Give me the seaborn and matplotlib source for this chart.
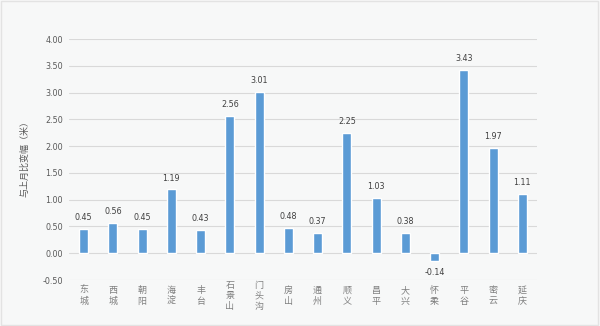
import matplotlib
matplotlib.use("Agg")
import matplotlib.pyplot as plt
import seaborn as sns
import pandas as pd
from matplotlib.patches import Rectangle

districts = ["东城", "西城", "朝阳", "海淀", "丰台", "石景山", "门头沟", "房山",
             "通州", "顺义", "昌平", "大兴", "怀柔", "平谷", "密云", "延庆"]
changes = [0.45, 0.56, 0.45, 1.19, 0.43, 2.56, 3.01, 0.48,
           0.37, 2.25, 1.03, 0.38, -0.14, 3.43, 1.97, 1.11]
yticks = [-0.5, 0.0, 0.5, 1.0, 1.5, 2.0, 2.5, 3.0, 3.5, 4.0]
ylabel = "与上月比变幅（米）"

sns.set_theme(style="white")
plt.rcParams['font.family'] = ['Noto Sans CJK SC', 'DejaVu Sans']
plt.rcParams['axes.unicode_minus'] = False

bg = "#f7f8f8"
fig = plt.figure(figsize=(6.0, 3.26), dpi=100, facecolor=bg)
ax = fig.add_axes([69/600, 1-280/326, (537-69)/600, (280-39)/326])
ax.set_facecolor(bg)

df = pd.DataFrame({"district": districts, "change": changes})
sns.barplot(data=df, x="district", y="change", color="#5b9bd5", width=0.31,
            saturation=1, ax=ax, zorder=3)

ax.set_ylim(-0.5, 4.0)
ax.set_xlim(-0.5, len(districts) - 0.5)
ax.set_yticks(yticks)
ax.set_yticklabels([f"{v:.2f}" for v in yticks], fontsize=5.8, color="#595959",
                   family=['DejaVu Sans'])
for v in yticks:
    ax.axhline(v, color="#d9d9d9", lw=0.8, zorder=1)
for s in ax.spines.values():
    s.set_visible(False)
ax.tick_params(axis='y', length=0, pad=4.5)
ax.tick_params(axis='x', length=0)
ax.set_xticklabels([])
ax.set_xlabel("")
ax.set_ylabel(ylabel, fontsize=6.5, color="#595959")
ax.yaxis.set_label_coords((29 - 69) / 468, (280 - 156) / 241)

for i, (name, v) in enumerate(zip(districts, changes)):
    if v >= 0:
        ax.annotate(f"{v:.2f}", (i, v), xytext=(0, 5), textcoords="offset points",
                    ha="center", va="bottom", fontsize=5.8, color="#404040",
                    family=['DejaVu Sans'])
    else:
        ax.annotate(f"{v:.2f}", (i, v), xytext=(0, -5), textcoords="offset points",
                    ha="center", va="top", fontsize=5.8, color="#404040",
                    family=['DejaVu Sans'])
    ax.annotate("\n".join(name), (i, -0.5), xytext=(0, -11.5),
                textcoords="offset points", ha="center", va="center",
                fontsize=6.5, color="#7f7f7f", linespacing=1.25,
                annotation_clip=False)

fig.add_artist(Rectangle((0.001, 0.003), 0.996, 0.994, transform=fig.transFigure,
                         fill=False, edgecolor="#e3e3e3", lw=1))

fig.savefig("out.png", dpi=100, facecolor=bg)
